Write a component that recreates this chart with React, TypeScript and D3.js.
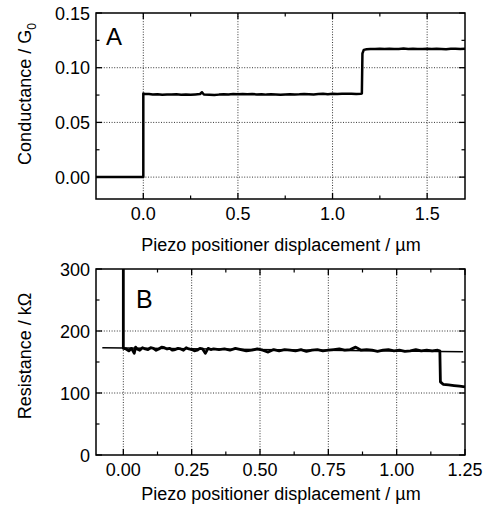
import React from "react";
import * as d3 from "d3";

// ---------- Panel A data (conductance / G0 vs displacement / µm) ----------
const condX = [
  -0.25, 0.0, 0.0, 0.005, 0.03, 0.05, 0.075, 0.1, 0.125, 0.15, 0.175, 0.2, 0.225, 0.25, 0.275,
  0.3, 0.31, 0.32, 0.35, 0.375, 0.4, 0.425, 0.45, 0.475, 0.5, 0.525, 0.55, 0.575, 0.6, 0.625,
  0.65, 0.675, 0.7, 0.725, 0.75, 0.775, 0.8, 0.825, 0.85, 0.875, 0.9, 0.925, 0.95, 0.975, 1.0,
  1.025, 1.05, 1.075, 1.1, 1.125, 1.15, 1.155, 1.158, 1.165, 1.18, 1.2, 1.225, 1.25, 1.275, 1.3,
  1.325, 1.35, 1.375, 1.4, 1.425, 1.45, 1.475, 1.5, 1.525, 1.55, 1.575, 1.6, 1.625, 1.65, 1.675, 1.7,
];
const condY = [
  0.0, 0.0, 0.0765, 0.0762, 0.076, 0.0755, 0.0758, 0.0752, 0.0756, 0.0754, 0.0757, 0.0753, 0.0755,
  0.0752, 0.0756, 0.076, 0.0776, 0.0755, 0.0752, 0.075, 0.0754, 0.0757, 0.0755, 0.0759, 0.0757,
  0.076, 0.0757, 0.0759, 0.0756, 0.0758, 0.0754, 0.0757, 0.0755, 0.0753, 0.0756, 0.0758, 0.0755,
  0.0757, 0.076, 0.0758, 0.0756, 0.0759, 0.0761, 0.0758, 0.0762, 0.076, 0.0763, 0.0761, 0.0762,
  0.076, 0.0763, 0.0764, 0.113, 0.1163, 0.1168, 0.1172, 0.117, 0.1174, 0.1171, 0.1173, 0.117,
  0.1172, 0.1175, 0.1171, 0.1174, 0.1172, 0.117, 0.1173, 0.1171, 0.1174, 0.1172, 0.1169, 0.1173,
  0.1174, 0.1171, 0.1173,
];

// ---------- Panel B data (resistance / kΩ vs displacement / µm) ----------
const resX = [
  0.0, 0.0, 0.01, 0.02, 0.03, 0.04, 0.045, 0.05, 0.06, 0.07, 0.08, 0.09, 0.1, 0.11, 0.12, 0.13,
  0.14, 0.15, 0.16, 0.17, 0.18, 0.19, 0.2, 0.21, 0.22, 0.23, 0.24, 0.25, 0.26, 0.27, 0.28, 0.29,
  0.3, 0.31, 0.32, 0.33, 0.35, 0.37, 0.39, 0.41, 0.43, 0.45, 0.47, 0.49, 0.51,
  0.53, 0.55, 0.57, 0.59, 0.61, 0.63, 0.65, 0.67, 0.69, 0.71, 0.73, 0.75, 0.77, 0.79, 0.81, 0.83,
  0.84, 0.85, 0.87, 0.89, 0.91, 0.93, 0.95, 0.97, 0.99, 1.01, 1.03, 1.05, 1.07, 1.09, 1.11, 1.13,
  1.15, 1.157, 1.158, 1.16, 1.17, 1.19, 1.21, 1.23, 1.25,
];
const resY = [
  420, 172, 171, 168, 172, 164, 174, 171, 169, 173, 171, 170, 173, 172, 169, 171, 174, 173, 171,
  172, 169, 170, 172, 171, 169, 173, 171, 170, 168, 169, 172, 171, 164, 172, 170, 171, 170, 171,
  169, 172, 170, 168, 169, 171, 169, 166, 170, 168, 170, 169, 168, 170,
  167, 169, 170, 168, 169, 170, 171, 169, 170, 172, 174, 169, 170, 169, 167, 169, 170, 168, 169,
  167, 168, 170, 168, 169, 168, 169, 168, 168, 118, 114, 113, 112, 111, 110, 110,
];
const fitX = [-0.077, 1.243];
const fitY = [173, 166.5];

// ---------- Axis ticks ----------
const aXMajor = [0, 0.5, 1.0, 1.5];
const aXMinor = [0.25, 0.75, 1.25];
const aXLabels = ["0.0", "0.5", "1.0", "1.5"];
const aYMajor = [0, 0.05, 0.1, 0.15];
const aYMinor = [0.025, 0.075, 0.125];
const aYLabels = ["0.00", "0.05", "0.10", "0.15"];
const aGridX = [0, 0.5, 1.0, 1.5];
const aGridY = [0, 0.05, 0.1];

const bXMajor = [0, 0.25, 0.5, 0.75, 1.0, 1.25];
const bXMinor = [0.125, 0.375, 0.625, 0.875, 1.125];
const bXLabels = ["0.00", "0.25", "0.50", "0.75", "1.00", "1.25"];
const bYMajor = [0, 100, 200, 300];
const bYMinor = [50, 150, 250];
const bYLabels = ["0", "100", "200", "300"];
const bGridX = [0, 0.25, 0.5, 0.75, 1.0];
const bGridY = [100, 200];

const FONT = "'Liberation Sans', Arial, Helvetica, sans-serif";
const LEFT = 96;
const RIGHT = 465;
const TICKFS = 18;
const TITLEFS = 18;

type PanelProps = {
  id: string;
  x: d3.ScaleLinear<number, number>;
  y: d3.ScaleLinear<number, number>;
  xMajor: number[];
  xMinor: number[];
  xLabels: string[];
  yMajor: number[];
  yMinor: number[];
  yLabels: string[];
  gridX: number[];
  gridY: number[];
};

function Frame(p: PanelProps) {
  const [x0, x1] = p.x.range();
  const [yb, yt] = p.y.range();
  const MAJ = 6;
  const MIN = 3.5;
  return (
    <g>
      {p.gridX.map((v, i) => (
        <line key={"gx" + i} x1={p.x(v)} x2={p.x(v)} y1={yb} y2={yt} stroke="#000" strokeWidth={0.8} strokeDasharray="1,1.6" />
      ))}
      {p.gridY.map((v, i) => (
        <line key={"gy" + i} x1={x0} x2={x1} y1={p.y(v)} y2={p.y(v)} stroke="#000" strokeWidth={0.8} strokeDasharray="1,1.6" />
      ))}
      {p.xMajor.map((v, i) => (
        <g key={"xm" + i}>
          <line x1={p.x(v)} x2={p.x(v)} y1={yb} y2={yb - MAJ} stroke="#000" strokeWidth={1.3} />
          <line x1={p.x(v)} x2={p.x(v)} y1={yt} y2={yt + MAJ} stroke="#000" strokeWidth={1.3} />
          <text x={p.x(v)} y={yb + 21} textAnchor="middle" fontSize={TICKFS} fontFamily={FONT}>
            {p.xLabels[i]}
          </text>
        </g>
      ))}
      {p.xMinor.map((v, i) => (
        <g key={"xn" + i}>
          <line x1={p.x(v)} x2={p.x(v)} y1={yb} y2={yb - MIN} stroke="#000" strokeWidth={1.2} />
          <line x1={p.x(v)} x2={p.x(v)} y1={yt} y2={yt + MIN} stroke="#000" strokeWidth={1.2} />
        </g>
      ))}
      {p.yMajor.map((v, i) => (
        <g key={"ym" + i}>
          <line x1={x0} x2={x0 + MAJ} y1={p.y(v)} y2={p.y(v)} stroke="#000" strokeWidth={1.3} />
          <line x1={x1} x2={x1 - MAJ} y1={p.y(v)} y2={p.y(v)} stroke="#000" strokeWidth={1.3} />
          <text x={x0 - 6} y={p.y(v) + 6.5} textAnchor="end" fontSize={TICKFS} fontFamily={FONT}>
            {p.yLabels[i]}
          </text>
        </g>
      ))}
      {p.yMinor.map((v, i) => (
        <g key={"yn" + i}>
          <line x1={x0} x2={x0 + MIN} y1={p.y(v)} y2={p.y(v)} stroke="#000" strokeWidth={1.2} />
          <line x1={x1} x2={x1 - MIN} y1={p.y(v)} y2={p.y(v)} stroke="#000" strokeWidth={1.2} />
        </g>
      ))}
    </g>
  );
}

export default function App() {
  const xA = d3.scaleLinear().domain([-0.25, 1.7]).range([LEFT, RIGHT]);
  const yA = d3.scaleLinear().domain([-0.02, 0.15]).range([199, 13]);
  const xB = d3.scaleLinear().domain([-0.1, 1.25]).range([LEFT, RIGHT]);
  const yB = d3.scaleLinear().domain([0, 300]).range([455, 269]);

  const condPts: [number, number][] = condX.map((v, i) => [v, condY[i]]);
  const resPts: [number, number][] = resX.map((v, i) => [v, resY[i]]);
  const fitPts: [number, number][] = fitX.map((v, i) => [v, fitY[i]]);

  const lineA = d3.line<[number, number]>().x((d) => xA(d[0])).y((d) => yA(d[1]));
  const lineB = d3.line<[number, number]>().x((d) => xB(d[0])).y((d) => yB(d[1]));

  const pA: PanelProps = {
    id: "A", x: xA, y: yA, xMajor: aXMajor, xMinor: aXMinor, xLabels: aXLabels,
    yMajor: aYMajor, yMinor: aYMinor, yLabels: aYLabels, gridX: aGridX, gridY: aGridY,
  };
  const pB: PanelProps = {
    id: "B", x: xB, y: yB, xMajor: bXMajor, xMinor: bXMinor, xLabels: bXLabels,
    yMajor: bYMajor, yMinor: bYMinor, yLabels: bYLabels, gridX: bGridX, gridY: bGridY,
  };

  return (
    <svg width={484} height={517} style={{ position: "absolute", left: 0, top: 0, background: "#fff" }}>
      <defs>
        <clipPath id="clipA">
          <rect x={LEFT} y={13} width={RIGHT - LEFT} height={199 - 13} />
        </clipPath>
        <clipPath id="clipB">
          <rect x={LEFT} y={269} width={RIGHT - LEFT} height={455 - 269} />
        </clipPath>
      </defs>
      <rect width={484} height={517} fill="#fff" />

      {/* Panel A */}
      <Frame {...pA} />
      <g clipPath="url(#clipA)">
        <path d={lineA(condPts) || ""} fill="none" stroke="#000" strokeWidth={2.5} strokeLinejoin="round" />
      </g>
      <rect x={LEFT} y={13} width={RIGHT - LEFT} height={199 - 13} fill="none" stroke="#000" strokeWidth={1.5} />
      <text x={106} y={45} fontSize={24} fontFamily={FONT}>A</text>
      <text x={281} y={251} textAnchor="middle" fontSize={TITLEFS} fontFamily={FONT}>
        Piezo positioner displacement / µm
      </text>
      <text transform="translate(31,94) rotate(-90)" textAnchor="middle" fontSize={TITLEFS} fontFamily={FONT}>
        Conductance / G<tspan fontSize={12} dy={5}>0</tspan>
      </text>

      {/* Panel B */}
      <Frame {...pB} />
      <g clipPath="url(#clipB)">
        <path d={lineB(fitPts) || ""} fill="none" stroke="#000" strokeWidth={1.5} />
        <path d={lineB(resPts) || ""} fill="none" stroke="#000" strokeWidth={2.8} strokeLinejoin="round" />
      </g>
      <rect x={LEFT} y={269} width={RIGHT - LEFT} height={455 - 269} fill="none" stroke="#000" strokeWidth={1.5} />
      <text x={136} y={308} fontSize={25} fontFamily={FONT}>B</text>
      <text x={281} y={500} textAnchor="middle" fontSize={TITLEFS} fontFamily={FONT}>
        Piezo positioner displacement / µm
      </text>
      <text transform="translate(31,356) rotate(-90)" textAnchor="middle" fontSize={TITLEFS} fontFamily={FONT}>
        Resistance / kΩ
      </text>
    </svg>
  );
}
